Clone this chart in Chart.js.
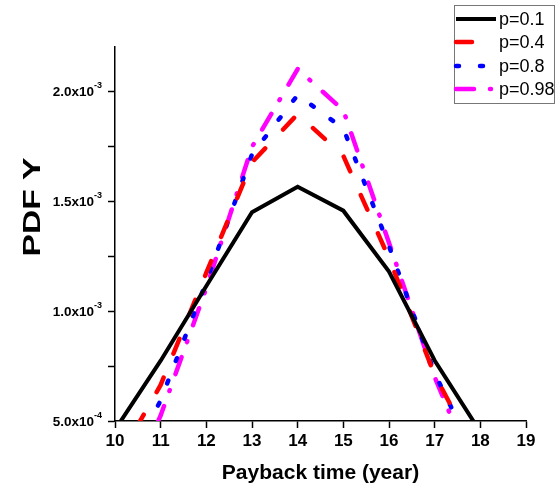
<!DOCTYPE html>
<html>
<head>
<meta charset="utf-8">
<script src="https://cdn.jsdelivr.net/npm/chart.js@4/dist/chart.umd.min.js"></script>
<style>
  body { margin: 0; background: #fff; }
  canvas { display: block; }
</style>
</head>
<body>
<canvas id="myChart" width="558" height="489"></canvas>
<script>
// ---------------------------------------------------------------DATA
const years = ["10", "11", "12", "13", "14", "15", "16", "17", "18", "19"];
const pdfP01 = [4.6e-4, 7.74e-4, 1.114e-3, 1.449e-3, 1.565e-3, 1.456e-3, 1.179e-3, 7.75e-4, 4.5e-4];
const pdfP04 = [3.0e-4, 6.64e-4, 1.174e-3, 1.676e-3, 1.895e-3, 1.705e-3, 1.24e-3, 7.09e-4, 3.2e-4];
const pdfP08 = [1.8e-4, 5.94e-4, 1.133e-3, 1.712e-3, 1.982e-3, 1.83e-3, 1.295e-3, 7.17e-4, 2.9e-4];
const pdfP098 = [0.6e-4, 5.25e-4, 1.105e-3, 1.746e-3, 2.1e-3, 1.912e-3, 1.31e-3, 7.0e-4, 2.0e-4];
const seriesNames = ["p=0.1", "p=0.4", "p=0.8", "p=0.98"];
// "base|exponent", drawn with a raised exponent
const yTickLabels = ["5.0x10|-4", "", "1.0x10|-3", "", "1.5x10|-3", "", "2.0x10|-3"];

const FONT = "'Liberation Sans', Arial, sans-serif";
const graph = document.querySelector("#myChart");

// ---------------------------------------------------------------PLUGINS
// y tick labels with a real superscript exponent
const sciTicks = {
  id: "sciTicks",
  afterDraw(chart) {
    const ctx = chart.ctx;
    const scale = chart.scales.y;
    ctx.save();
    ctx.fillStyle = "#000";
    ctx.textBaseline = "middle";
    scale.ticks.forEach((t, i) => {
      const lbl = yTickLabels[i];
      if (!lbl) return;
      const [base, exp] = lbl.split("|");
      const y = scale.getPixelForTick(i);
      const right = 102;
      ctx.font = "bold 9px " + FONT;
      const supW = ctx.measureText(exp).width;
      ctx.textAlign = "left";
      ctx.fillText(exp, right - supW, y - 5);
      ctx.font = "bold 13.5px " + FONT;
      ctx.textAlign = "right";
      ctx.fillText(base, right - supW, y + 1);
    });
    ctx.restore();
  },
};

// y title sits a bit above the middle and looks stretched in the original
const yTitle = {
  id: "yTitle",
  afterDraw(chart) {
    const ctx = chart.ctx;
    ctx.save();
    ctx.translate(33, 207);
    ctx.rotate(-Math.PI / 2);
    ctx.scale(1.4, 1);
    ctx.font = "bold 24px " + FONT;
    ctx.fillStyle = "#000";
    ctx.textAlign = "center";
    ctx.textBaseline = "middle";
    ctx.fillText("PDF Y", 0, 0);
    ctx.restore();
  },
};

// boxed legend in the top right corner, over the plot
const boxLegend = {
  id: "boxLegend",
  afterDraw(chart) {
    const ctx = chart.ctx;
    const x = 454.5, y = 5.5, w = 100, h = 98;
    ctx.save();
    ctx.fillStyle = "#fff";
    ctx.fillRect(x, y, w, h);
    ctx.strokeStyle = "#777";
    ctx.lineWidth = 1;
    ctx.strokeRect(x, y, w, h);
    const rows = [19, 42, 66, 89];
    chart.data.datasets.forEach((ds, i) => {
      ctx.beginPath();
      ctx.strokeStyle = ds.borderColor;
      ctx.lineWidth = ds.borderWidth;
      ctx.lineCap = ds.borderCapStyle || "butt";
      ctx.setLineDash(ds.borderDash || []);
      ctx.moveTo(456, rows[i]);
      ctx.lineTo(496, rows[i]);
      ctx.stroke();
      ctx.setLineDash([]);
      ctx.fillStyle = "#000";
      ctx.font = "18px " + FONT;
      ctx.textBaseline = "middle";
      ctx.fillText(ds.label, 499, rows[i] + 1);
    });
    ctx.restore();
  },
};

// ---------------------------------------------------------------CHART
const datasets = [
  { label: seriesNames[0], data: pdfP01, borderColor: "#000000", borderWidth: 4, borderDash: [] },
  { label: seriesNames[1], data: pdfP04, borderColor: "#ff0000", borderWidth: 4.5, borderDash: [16, 26], borderCapStyle: "round" },
  { label: seriesNames[2], data: pdfP08, borderColor: "#0000ff", borderWidth: 4.5, borderDash: [3, 21], borderCapStyle: "round" },
  { label: seriesNames[3], data: pdfP098, borderColor: "#ff00ff", borderWidth: 4.5, borderDash: [18, 16, 1, 17], borderCapStyle: "round" },
].map((d) => ({ ...d, pointRadius: 0, tension: 0, fill: false, clip: 0 }));

const config = {
  type: "line",
  data: { labels: years, datasets: datasets },
  options: {
    responsive: false,
    animation: false,
    layout: { padding: { top: 47, right: 32, left: 0, bottom: 0 } },
    plugins: { legend: { display: false }, tooltip: { enabled: false } },
    scales: {
      x: {
        type: "category",
        offset: false,
        grid: { drawOnChartArea: false, tickLength: 7, tickColor: "#000", tickWidth: 1.5 },
        border: { display: true, color: "#000", width: 1.5 },
        ticks: { color: "#000", font: { family: FONT, size: 17, weight: "bold" }, padding: 3, maxRotation: 0, autoSkip: false },
        title: { display: true, text: "Payback time (year)", color: "#000", font: { family: FONT, size: 21, weight: "bold" }, padding: { top: 4, bottom: 3 } },
        afterFit(scale) { scale.height = 68; },
      },
      y: {
        min: 5e-4,
        max: 2.2e-3,
        grid: { drawOnChartArea: false, tickLength: 7, tickColor: "#000", tickWidth: 1.5 },
        border: { display: true, color: "#000", width: 1.5 },
        ticks: {
          stepSize: 2.5e-4,
          includeBounds: false,
          color: "#000",
          padding: 6,
          font: { family: FONT, size: 13, weight: "bold" },
          callback: () => "",
        },
        afterFit(scale) { scale.width = 115; },
      },
    },
  },
  plugins: [sciTicks, yTitle, boxLegend],
};

new Chart(graph, config);
</script>
</body>
</html>
